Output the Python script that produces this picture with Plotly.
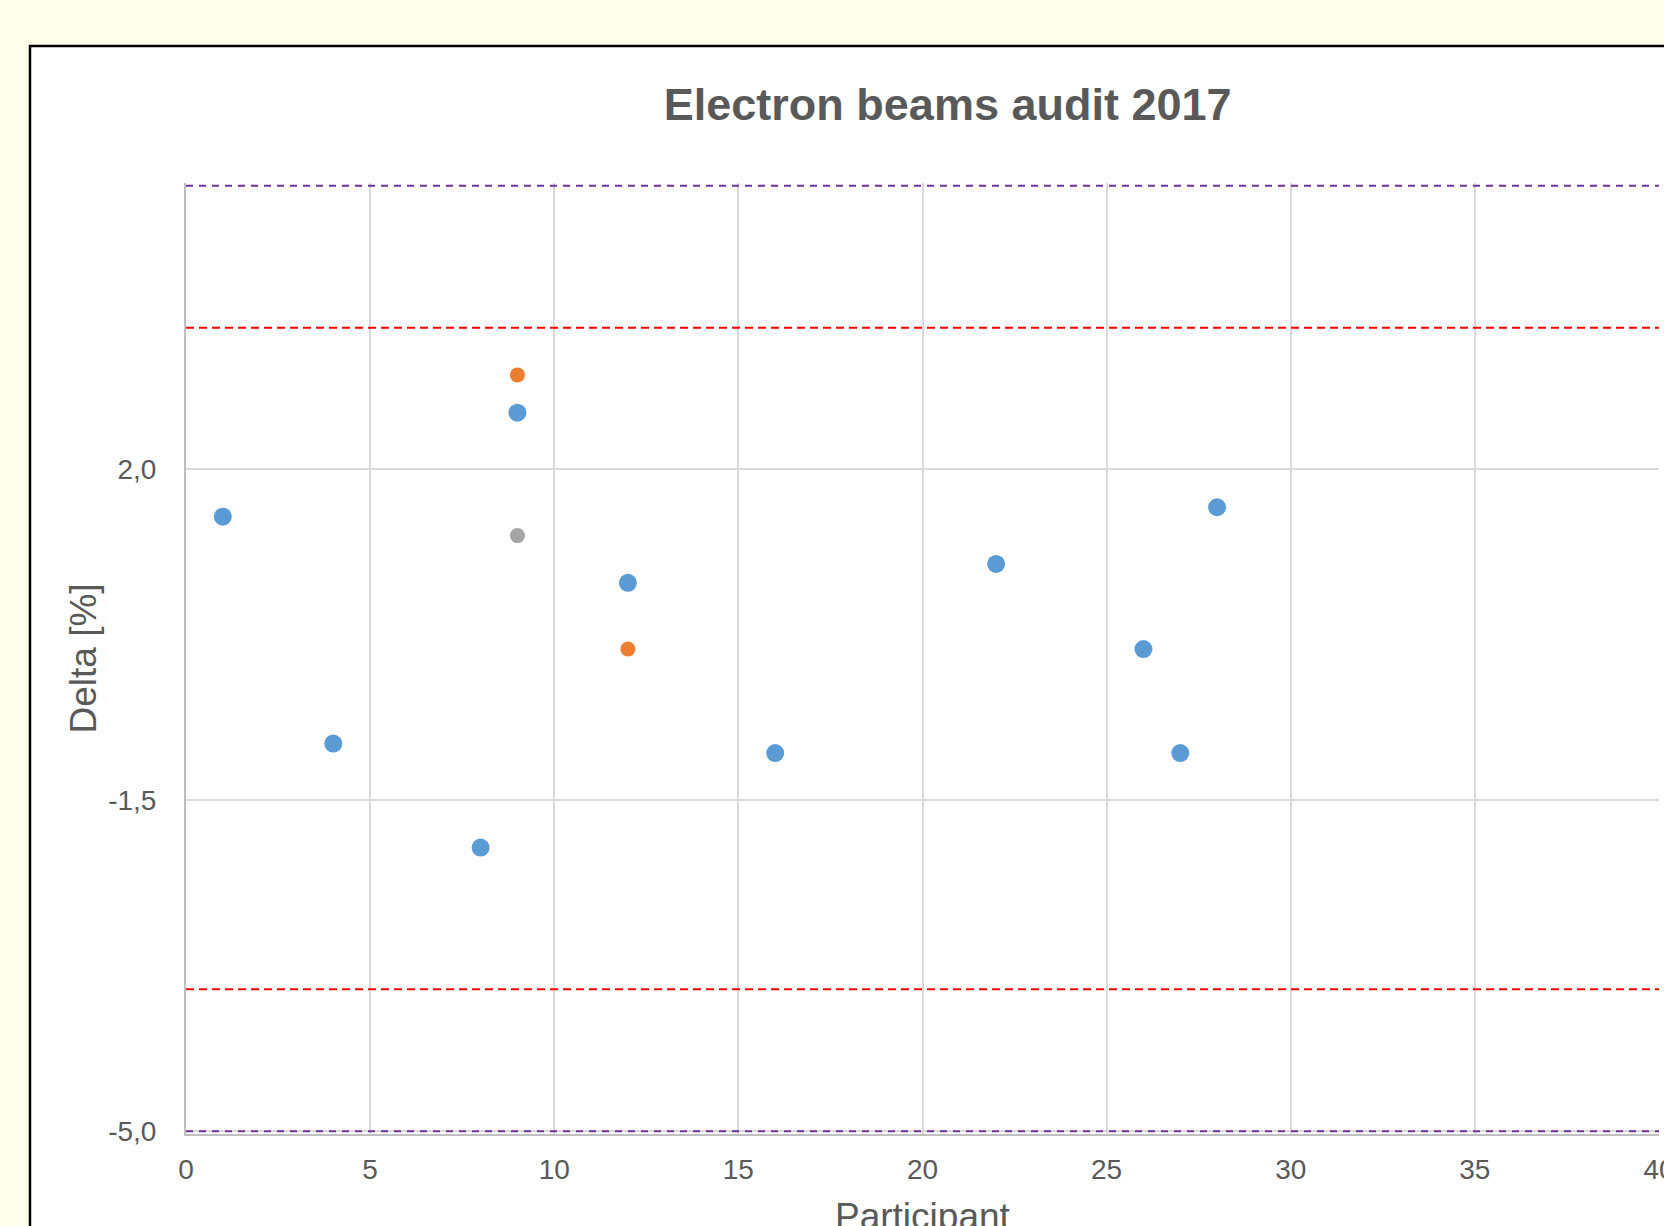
import plotly.graph_objects as go

# ---------------- data ----------------
participants_main = [1, 4, 8, 9, 12, 16, 22, 26, 27, 28]
delta_main = [1.5, -0.9, -2.0, 2.6, 0.8, -1.0, 1.0, 0.1, -1.0, 1.6]

participants_orange = [9, 12]
delta_orange = [3.0, 0.1]

participants_gray = [9]
delta_gray = [1.3]

limit_x = [0, 40]
tolerance_hi = [3.5, 3.5]
tolerance_lo = [-3.5, -3.5]
action_hi = [5.0, 5.0]
action_lo = [-5.0, -5.0]

x_tickvals = [0, 5, 10, 15, 20, 25, 30, 35, 40]
y_tickvals = [-5.0, -1.5, 2.0]
y_ticktext = ["-5,0", "-1,5", "2,0"]

title_text = "Electron beams audit 2017"
x_title = "Participant"
y_title = "Delta [%]"

# ---------------- layout geometry ----------------
PW, PH = 1664, 1226
L, R = 186, 5
YR = [-5.03, 5.03]
T = 183
B = 92
W = PW - L - R
H = PH - T - B

def px_x(p):
    return (p - L) / W

def px_y(p):
    return (T + H - p) / H

FONT = "Liberation Sans, Arial, sans-serif"
TXT = "#595959"
BG = "#FFFFEB"

fig = go.Figure()

fig.add_trace(go.Scatter(x=limit_x, y=action_hi, mode="lines",
                         line=dict(color="#7030A0", width=2, dash="7px,6px"),
                         hoverinfo="skip", showlegend=False))
fig.add_trace(go.Scatter(x=limit_x, y=action_lo, mode="lines",
                         line=dict(color="#7030A0", width=2, dash="7px,6px"),
                         hoverinfo="skip", showlegend=False))
fig.add_trace(go.Scatter(x=limit_x, y=tolerance_hi, mode="lines",
                         line=dict(color="#FF0000", width=2, dash="8px,5px"),
                         hoverinfo="skip", showlegend=False))
fig.add_trace(go.Scatter(x=limit_x, y=tolerance_lo, mode="lines",
                         line=dict(color="#FF0000", width=2, dash="8px,5px"),
                         hoverinfo="skip", showlegend=False))

fig.add_trace(go.Scatter(x=participants_main, y=delta_main, mode="markers",
                         marker=dict(color="#5B9BD5", size=18, line=dict(width=0)),
                         showlegend=False))
fig.add_trace(go.Scatter(x=participants_orange, y=delta_orange, mode="markers",
                         marker=dict(color="#ED7D31", size=15, line=dict(width=0)),
                         showlegend=False))
fig.add_trace(go.Scatter(x=participants_gray, y=delta_gray, mode="markers",
                         marker=dict(color="#A5A5A5", size=15, line=dict(width=0)),
                         showlegend=False))

fig.update_layout(
    width=PW, height=PH,
    margin=dict(l=L, r=R, t=T, b=B, autoexpand=False),
    paper_bgcolor=BG,
    plot_bgcolor="#FFFFFF",
    font=dict(family=FONT, color=TXT),
    title=dict(text="<b>" + title_text + "</b>", x=893 * PW / 1568 / PW, xref="container",
               xanchor="center", y=1 - 104 / PH, yref="container", yanchor="middle",
               font=dict(family=FONT, size=45, color=TXT)),
    xaxis=dict(range=[0, 40], tickvals=x_tickvals, showgrid=True, gridcolor="#D9D9D9",
               gridwidth=1.5, zeroline=False, showline=True, linecolor="#BFBFBF",
               linewidth=1.5, layer="below traces", ticks="outside", ticklen=10,
               tickcolor="rgba(0,0,0,0)", tickfont=dict(family=FONT, size=28, color=TXT),
               ticklabeloverflow="allow", fixedrange=True),
    yaxis=dict(range=YR, tickvals=y_tickvals, ticktext=y_ticktext, showgrid=True,
               gridcolor="#D9D9D9", gridwidth=1.5, zeroline=False, showline=True,
               linecolor="#BFBFBF", linewidth=2, layer="below traces", ticks="outside",
               ticklen=22, tickcolor="rgba(0,0,0,0)",
               tickfont=dict(family=FONT, size=28, color=TXT),
               ticklabeloverflow="allow", fixedrange=True),
    shapes=[dict(type="rect", xref="paper", yref="paper",
                 x0=px_x(30), x1=px_x(1720), y0=px_y(1300), y1=px_y(46),
                 line=dict(color="#000000", width=2.5), fillcolor="#FFFFFF",
                 layer="below")],
    annotations=[
        dict(text=x_title, xref="paper", yref="paper", x=0.5, y=px_y(1216),
             xanchor="center", yanchor="middle", showarrow=False,
             font=dict(family=FONT, size=37, color=TXT)),
        dict(text=y_title, xref="paper", yref="paper", x=px_x(83), y=0.5,
             xanchor="center", yanchor="middle", textangle=-90, showarrow=False,
             font=dict(family=FONT, size=37, color=TXT)),
    ],
)

fig.write_html(
    "out.html",
    config={"displayModeBar": False},
    post_script="document.body.style.margin='0';document.body.style.overflow='hidden';"
                "document.body.style.background='" + BG + "';",
)
